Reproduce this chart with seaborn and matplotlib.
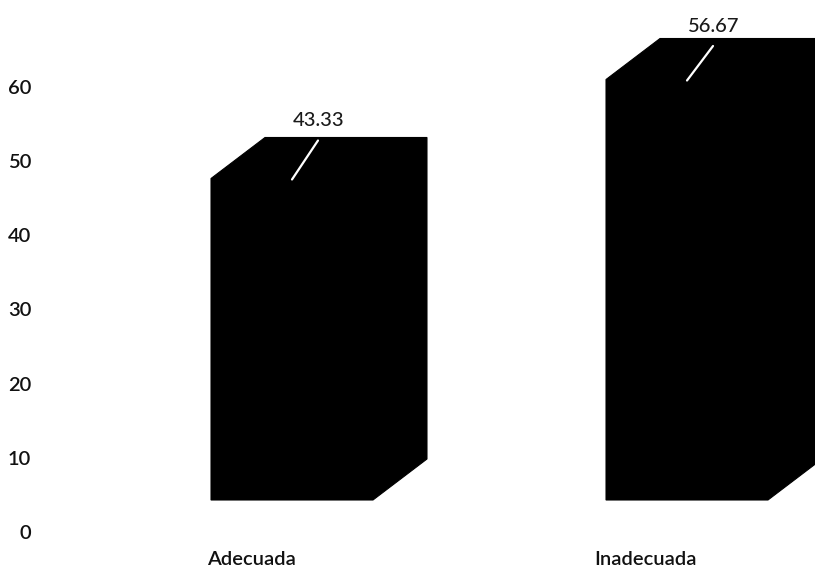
import matplotlib
matplotlib.use("Agg")
import matplotlib.pyplot as plt
import matplotlib.transforms as mtransforms
from matplotlib.patches import Polygon
import seaborn as sns
import pandas as pd

# ---- data ----
categories = ["Adecuada", "Inadecuada"]
values = [43.33, 56.67]
value_labels = ["43.33", "56.67"]
yticks = [0, 10, 20, 30, 40, 50, 60]

sns.set_theme(style="white")
plt.rcParams["font.family"] = ["Lato", "DejaVu Sans"]

W, H, DPI = 815, 569, 100
fig = plt.figure(figsize=(W / DPI, H / DPI), dpi=DPI)
fig.patch.set_facecolor("white")

# axes placement in pixels
ax_left, ax_right, ax_top, ax_bottom = 45, 815, 0, 545
ax = fig.add_axes([ax_left / W, 1 - ax_bottom / H,
                   (ax_right - ax_left) / W, (ax_bottom - ax_top) / H])
ax.set_facecolor("white")

df = pd.DataFrame({"cat": categories, "val": values})
sns.barplot(data=df, x="cat", y="val", color="black", saturation=1,
            width=0.41, ax=ax, linewidth=0, zorder=2)

# scale: category spacing 395 px, 7.42 px per unit
px_per_cat = 395.0
px_per_unit = 7.42
x0_pix_cat0 = 292.0
y0_pix = 532.0
ax.set_xlim((ax_left - x0_pix_cat0) / px_per_cat, (ax_right - x0_pix_cat0) / px_per_cat)
ax.set_ylim((y0_pix - ax_bottom) / px_per_unit, (y0_pix - ax_top) / px_per_unit)

FLOOR = 32 / px_per_unit   # 3D floor offset (bar base sits at pixel 500)
DX = 54 / px_per_cat       # depth offsets
DY = 41 / px_per_unit
ytop_lim = ax.get_ylim()[1]

for i, p in enumerate(ax.patches):
    p.set_y(FLOOR)
    x0 = p.get_x()
    w = p.get_width()
    h = p.get_height()
    x1 = x0 + w
    y0 = FLOOR
    y1 = FLOOR + h
    poly = Polygon([(x0, y0), (x0, y1), (x0 + DX, y1 + DY), (x1 + DX, y1 + DY),
                    (x1 + DX, y0 + DY), (x1, y0)], closed=True,
                   facecolor="black", edgecolor="black", lw=0.8, zorder=3,
                   clip_on=False)
    ax.add_patch(poly)
    # label
    cx = x0 + w / 2
    lx = cx + 27 / px_per_cat
    ly = min(y1 + DY + 17 / px_per_unit, ytop_lim - 26 / px_per_unit)
    ax.text(lx, ly, value_labels[i], ha="center", va="center", fontsize=14.5,
            color="#1a1a1a", fontweight="medium", zorder=5)
    # leader line
    ax.plot([cx, lx - 1 / px_per_cat], [y1 - 1 / px_per_unit, ly - 20 / px_per_unit],
            color="white", lw=1.6, zorder=4, solid_capstyle="round")

ax.set_yticks(yticks)
ax.set_yticklabels([str(t) for t in yticks], fontsize=14.5, color="#111111",
                   fontweight="semibold")
ax.tick_params(axis="y", length=0, pad=10)
ax.tick_params(axis="x", length=0, pad=4)
ax.set_xticks(range(len(categories)))
ax.set_xticklabels(categories, fontsize=14.5, fontweight="semibold", color="#111111")
offset = mtransforms.ScaledTranslation(-41 / DPI, 0, fig.dpi_scale_trans)
for lab in ax.get_xticklabels():
    lab.set_transform(lab.get_transform() + offset)

ax.set_xlabel("")
ax.set_ylabel("")
for s in ax.spines.values():
    s.set_visible(False)
ax.grid(False)

fig.savefig("out.png", dpi=DPI, facecolor="white")
